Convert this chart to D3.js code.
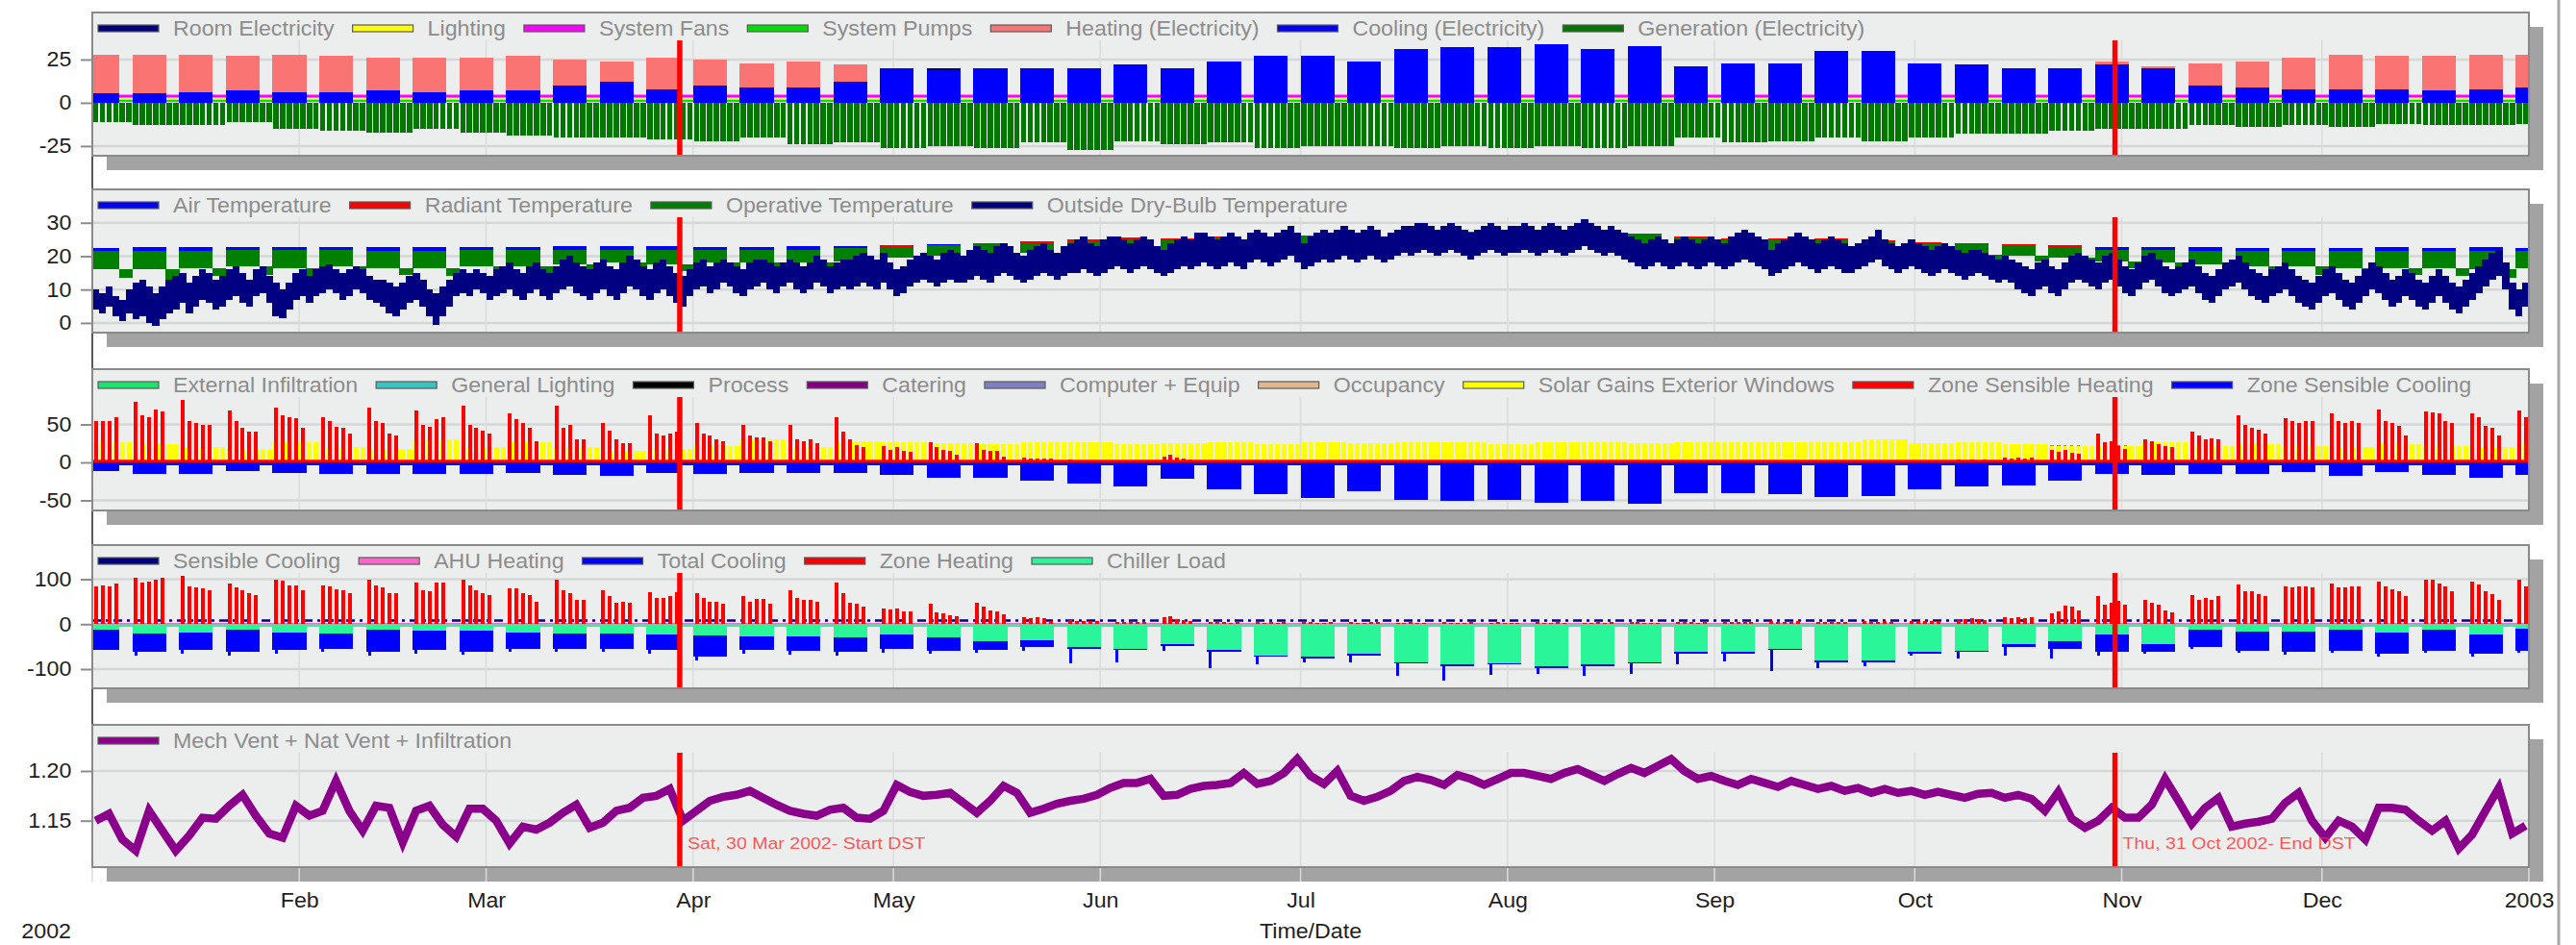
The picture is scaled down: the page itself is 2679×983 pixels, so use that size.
<!DOCTYPE html>
<html>
<head>
<meta charset="utf-8">
<script src="https://cdn.jsdelivr.net/npm/d3@7"></script>
<style>
  body { margin: 0; background: #fff; }
  text { font-family: "Liberation Sans", Arial, Helvetica, sans-serif; }
</style>
</head>
<body>
<svg id="chart" width="2679" height="983"></svg>
<script>
// ---------------- data (2002) ----------------
// weeks: w0 = Tue 1 Jan .. Sun 6 Jan, then Monday-based weeks up to w52 (Mon 30 Dec)

// panel 1 - electricity (kW)
const legend1 = ['Room Electricity', 'Lighting', 'System Fans', 'System Pumps', 'Heating (Electricity)', 'Cooling (Electricity)', 'Generation (Electricity)'];
const roomLevels = [20, 1.5];     // working day, otherwise
const lightLevels = [13, 1.8];
const fanLevel = [3.8];
const pumpLevel = [1.2];
const heatE = [28,28,28,27,28,27,26,26,26,27,25,24,26, 25,23,24,22,18,14,8,3,
  0,0,0,0,0,0,0,0,0,0,0,0,0,0,0,0,0,0,0,0,0,
  12,24,21,23,24,26,28,27,27,28,28];
const coolE = [5.7,5.5,6,7,6,6,7,6,7,7,10,12,8,10,9,9,12,
  20,19,20,20,20,22,20,24,27,27,24,31,32,32,34,31,33,21,23,23,30,30,23,22,20,20,22,20,
  10,9,8,8,8,7,8,9];
const genE = [-11,-13,-13,-11,-15,-16,-17,-15,-17.5,-19,-20,-20,-21,-22,-20,-24,-23,
  -26,-25,-26,-23,-27,-22,-24,-23,-26,-25,-25,-26,-25,-26,-25,-26,-25,
  -20,-23,-22,-20,-22,-20,-18,-18,-16,-15,-15,-13,-14,-13,-14,-12,-13,-13,-12];

// panel 2 - temperatures (deg C)
const legend2 = ['Air Temperature', 'Radiant Temperature', 'Operative Temperature', 'Outside Dry-Bulb Temperature'];
const airWdMax = [22.5,22.6,22.6,22.8,22.7,22.8,22.6,22.6,22.8,22.8,22.9,23,22.9,22.8,22.8,22.9,23,
  23.3,23.5,23.8,24.2,24.6,25,25.1,25.5,25.6,26,26.5,27,27,27.1,27,26.6,26.5,25.6,25.2,25,25,24.6,24.2,23.8,23.4,23.2,
  22.8,22.6,22.6,22.5,22.5,22.5,22.6,22.5,22.6,22.5];
const radWdMax = [20.5,20.5,20.5,20.8,20.8,20.8,20.5,20.5,20.8,20.8,21,21,21,21,21,21.2,21.5,
  23.2,23.4,23.9,24.4,25,25.5,25.4,25.8,25.8,26.2,26.7,27.2,27.2,27.3,27.2,26.8,26.7,25.8,25.4,25.2,25.2,24.7,24.3,23.9,23.5,23.2,
  21,20.8,20.6,20.5,20.5,20.5,20.5,20.5,20.5,20.5];
const opWdMax = [21.5,21.5,21.5,21.8,21.8,21.8,21.5,21.5,21.8,21.8,22,22,22, 22,22,22,22.3,
  22.8,23,23.5,24, 24.5,25,25,25.5,25.5, 26,26.5,27,27,27,27,26.5,26.5,
  25.5,25,25,25,24.5, 24,23.5,23,22.8, 22,21.8,21.6,21.5,21.5,21.5,21.5,21.5,21.5,21.5];
const opWdMin = [16,16,16.5,17,16.5,17,16.5,16.5,17,17,17.5,18,17.5, 18,18,18,18.5,
  19.5,20,20.5,21, 21.5,22,22,22.5,22.5, 23,23.5,24,24,24,24,23.5,23.5,
  22.5,22,22,22,21.5, 21,20.5,20,19.5, 18.5,18,17.5,17,17,16.5,16.5,16.5,16,16.5];
const opWeMin = [13.5,13,14,14.5,14,15,14.5,14,14.5,14.5,15,15.5,15.5, 16,16,16,16.5,
  18,18.5,19,19.5, 20,20.5,20.5,21,21, 21.5,22,22.5,22.5,22.5,22.5,22,22,
  21,20.5,20.5,20.5,20, 19.5,19,18.5,18, 16.5,16,15.5,15,14.5,14,14.5,14,13.5,14];
const outMin = [4,3,5,2,0.5,3,1,2,0,-1,1,3, 4,6,3,5,7,6,4,5, 7,8,6,5,8,9,6,2, 1.5,4,7,8,6,
  8,9,10,9,7,8,10,9,7,6, 5,3,2,4,6,7,5,2,-0.5,2, 5,8,9,8,10,9,7,8, 9,10,8,7,9,10,8,7,9,
  10,11,9,8,7,9,10,8, 7,9,11,10,8,7,9,10,8,6,5,
  8,10,11,9,10,12,11,9,8,10,11,12,10,9,11,12,10,9,10,12,11,9,10,11,
  10,11,12,11,10,12,10,8,9,11,12,13,12,11,12,13,12,
  12,13,14,13,12,14,15,14,13,12,13,14,15,14,13,14,15,
  15,16,15,14,15,16,17,16,15,16,17,16,15,14,15,16,
  17,16,17,18,17,16,17,18,17,16,18,19,18,17,18,19,20,
  18,16,17,18,19,18,19,20,19,18,19,20,19,18,19,20,21,
  20,21,22,21,20,21,22,21,20,19,20,21,22,21,20,21,
  21,22,21,20,21,22,21,20,21,22,23,22,21,20,21,20,19,
  18,17,16,17,18,17,16,17,18,17,16,17,18,17,16,17,
  18,19,18,17,16,14,15,16,17,18,17,16,15,16,17,16,15,
  15,16,17,18,19,17,16,15,16,17,16,15,14,15,16,15,
  14,13,14,15,14,13,12,13,12,10,9,8,10,11,9,8,10,
  12,13,12,11,10,12,13,11,9,8,10,12,13,11,9,8,
  9,10,11,9,7,6,8,10,11,12,10,8,7,6,8,9,10,
  8,6,5,4,6,8,9,7,5,4,6,8,10,9,7,5,
  6,8,7,5,4,6,8,6,4,3,5,7,9,11,13,14,10,4,2,5];
const outMax = [10,9,11,8,7,10,12,13,11,9,11,13, 14,15,12,14,16,15,13,14, 16,17,15,13,16,17,14,12, 10,12,15,16,14,
  16,17,17.5,16,15,16,17,16,14,13, 13,12,11,12,14,15,13,10,9,11, 13,15,16,15,16,15,14,16, 17,18,16,15,17,18,16,15,17,
  19,20,18,17,16,18,19,17, 16,18,20,19,17,16,18,19,17,15,14,
  16,18,19,17,18,19,18,17,16,18,19,19,18,17,18,19,18,17,18,20,19,17,18,19,
  19,20,21,20,19,21,18,16,17,19,20,21,20,19,21,22,21,
  20,22,23,22,21,23,24,23,21,20,22,23,24,22,21,23,24,
  25,26,24,23,25,26,26,25,24,25,26,25,23,22,24,25,
  26,25,27,27,26,25,26,27,26,25,27,28,27,26,27,28,29,
  27,24,26,27,28,27,28,29,28,27,28,29,28,26,27,28,29,
  29,30,30,29,28,29,30,29,28,27,28,29,30,29,28,29,
  29,30,29,28,29,30,29,28,29,30,31,30,29,28,29,28,27,
  26,25,24,25,26,25,24,25,26,25,24,25,26,25,24,26,
  27,28,27,26,25,22,24,25,26,27,26,25,24,25,26,25,24,
  23,24,25,26,28,25,24,23,24,25,24,23,22,23,24,23,
  22,21,22,22,21,20,19,20,19,18,17,16,18,19,17,16,18,
  20,21,20,19,18,20,21,19,17,16,18,20,21,19,17,16,
  17,18,19,17,15,14,16,18,19,20,18,16,15,14,16,17,18,
  16,14,13,12,14,16,17,15,13,12,14,16,18,17,15,13,
  14,16,15,13,12,14,16,14,12,11,13,15,17,19,21,22,18,12,10,12];

// panel 3 - zone gains (kW)
const legend3 = ['External Infiltration', 'General Lighting', 'Process', 'Catering', 'Computer + Equip', 'Occupancy', 'Solar Gains Exterior Windows', 'Zone Sensible Heating', 'Zone Sensible Cooling'];
const extInfLevel = [-1];
const genLightLevel = [9];
const processLevel = [0];
const cateringLevel = [0.5];
const equipLevel = [20];
const occLevel = [8];
const solar = [26,24,20,18,26,20,18,30,20,26,20,15,18,22,30,20,28,
  26,25,24,27,26,24,25,27,24,26,25,27,26,24,27,26,25,27,
  26,27,26,30,25,27,24,22,22,26,22,24,22,20,24,22,20,24];
const heatSFloor = [1.5];
const heatS = [[null,55,55,55,60],[80,62,60,70,67],[82,55,52,50,50],[68,55,45,40,40],[72,62,60,58,45],
  [60,55,47,45,38],[72,55,52,38,35],[68,50,47,57,60],[75,50,45,42,38],[65,57,52,45,28],
  [75,45,50,30,30],[52,42,30,25,25],[62,38,36,38,40],[52,38,35,30,28],[50,36,33,33,28],
  [50,30,28,30,25],[60,40,30,23,20],[22,17,20,15,14],[27,20,17,15,10],[25,17,15,15,8],
  [6,5,5,5,5],[4,3,3,3,3],[3,3,2,2,3],[8,10,6,5,4],[3,2,2,2,2],
  [2,2,2,2,2],[2,2,2,2,2],[2,2,2,2,2],[2,2,2,2,2],[2,2,2,2,2],
  [2,2,2,2,2],[2,2,2,2,2],[2,2,2,2,2],[2,2,2,2,2],[3,2,2,2,2],
  [3,2,2,2,2],[3,2,2,2,3],[2,2,2,2,2],[2,2,2,2,2],[3,3,2,3,3],
  [4,3,4,3,4],[6,5,6,5,6],[17,14,16,13,12],[38,26,28,22,18],[30,28,24,22,20],
  [40,35,30,32,30],[62,50,45,43,38],[58,55,52,54,55],[64,55,52,54,52],[70,55,52,48,36],
  [67,66,64,55,52],[64,60,48,45,36],[68,60]];
const coolS = [-12,-15,-15,-12,-14,-15,-15,-15,-15,-14,-16,-18,-14,-15,-14,-14,-14,
  -17,-20,-20,-24,-28,-32,-22,-36,-42,-47,-38,-49,-51,-49,-53,-51,-55,-40,
  -40,-42,-45,-44,-36,-32,-30,-24,-15,-16,-15,-15,-13,-18,-13,-16,-20,-16];
const coolSWeekend = [-4];

// panel 4 - plant loads (kW)
const legend4 = ['Sensible Cooling', 'AHU Heating', 'Total Cooling', 'Zone Heating', 'Chiller Load'];
const sensCoolLevel = [8];
const ahuLevel = [0.5];
const coolTot = [-58,-62,-58,-62,-58,-55,-62,-58,-62,-55,-55,-55,-58,-72,-58,-60,-62,
  -55,-60,-58,-50,-55,-58,-48,-62,-73,-76,-70,-88,-94,-90,-97,-94,-88,-66,
  -66,-58,-84,-84,-65,-62,-50,-55,-62,-62,-51,-59,-62,-59,-66,-59,-66,-59];
const coolTotPk = [-66,-70,-66,-70,-66,-62,-70,-66,-68,-62,-62,-62,-66,-80,-66,-68,-70,
  -63,-66,-64,-60,-87,-85,-60,-98,-90,-85,-85,-116,-126,-113,-110,-116,-110,-90,
  -83,-104,-97,-94,-70,-77,-70,-77,-70,-66,-56,-64,-68,-64,-72,-64,-72,-64];
const heatZ = [[null,85,87,84,90],[103,92,95,98,103],[108,84,82,80,76],[91,82,75,70,65],[100,97,87,87,76],
  [86,85,78,75,68],[100,86,82,70,70],[93,76,73,92,93],[100,86,76,68,65],[80,80,68,65,50],
  [98,76,68,55,55],[76,62,48,50,48],[72,58,58,62,72],[68,58,50,50,45],[62,50,57,57,45],
  [76,58,55,55,50],[93,68,48,45,40],[35,32,35,28,28],[46,26,24,20,17],[48,38,30,28,22],
  [16,13,16,13,8],[10,8,8,6,8],[5,5,4,4,5],[15,18,12,10,8],[5,4,4,3,4],
  [4,3,4,3,4],[4,4,3,3,4],[4,3,3,4,4],[3,3,4,3,3],[4,3,3,3,4],
  [3,4,3,3,3],[4,3,3,4,3],[3,3,4,3,4],[4,4,3,3,3],[5,4,4,3,4],
  [5,4,4,4,5],[6,5,4,5,6],[5,4,5,4,5],[6,5,5,6,5],[8,7,8,7,8],
  [10,12,14,12,10],[16,14,16,14,16],[25,28,41,38,30],[62,44,48,51,44],[55,48,44,30,27],
  [64,55,58,55,62],[88,73,73,66,62],[84,81,84,84,81],[91,81,81,84,84],[95,84,77,73,62],
  [100,98,91,84,73],[95,88,73,66,55],[98,84]];
const chiller = [-12,-20,-18,-12,-18,-20,-12,-15,-15,-18,-20,-20,-22,-25,-28,-28,-30,
  -23,-30,-38,-35,-51,-55,-45,-58,-70,-73,-66,-84,-90,-87,-94,-90,-84,-62,
  -62,-55,-80,-80,-62,-59,-44,-37,-23,-44,-12,-16,-16,-12,-18,-12,-23,-10];
const chillerWeekend = [-5];

// panel 5 - air change rate, one value every second day
const legend5 = ['Mech Vent + Nat Vent + Infiltration'];
const vent = [1.150,1.157,1.131,1.120,1.160,1.140,1.120,1.135,1.153,1.152,
  1.165,1.176,1.155,1.137,1.133,1.165,1.155,1.160,1.190,1.160,
  1.140,1.165,1.163,1.128,1.160,1.165,1.146,1.134,1.162,1.162,
  1.150,1.127,1.144,1.141,1.148,1.158,1.166,1.143,1.148,1.160,
  1.163,1.173,1.175,1.182,1.150,1.160,1.170,1.174,1.176,1.180,
  1.173,1.166,1.160,1.157,1.155,1.161,1.163,1.153,1.152,1.160,
  1.186,1.179,1.175,1.176,1.178,1.168,1.158,1.170,1.185,1.178,
  1.158,1.162,1.167,1.170,1.172,1.176,1.183,1.188,1.188,1.192,
  1.175,1.176,1.182,1.185,1.186,1.188,1.198,1.187,1.190,1.198,
  1.212,1.195,1.187,1.200,1.175,1.170,1.174,1.180,1.190,1.194,
  1.191,1.186,1.196,1.192,1.186,1.192,1.198,1.198,1.195,1.192,
  1.198,1.202,1.196,1.190,1.197,1.203,1.198,1.205,1.212,1.200,
  1.192,1.195,1.190,1.186,1.192,1.188,1.184,1.190,1.186,1.182,
  1.185,1.180,1.183,1.178,1.182,1.178,1.180,1.176,1.179,1.176,
  1.173,1.177,1.178,1.173,1.176,1.172,1.160,1.179,1.152,1.143,
  1.150,1.163,1.153,1.153,1.166,1.192,1.170,1.147,1.163,1.173,
  1.144,1.147,1.149,1.152,1.168,1.178,1.150,1.133,1.150,1.144,
  1.131,1.163,1.163,1.161,1.150,1.140,1.150,1.122,1.136,1.160,
  1.183,1.137,1.145];

const dstDates = [[2002, 2, 30, 'Sat, 30 Mar 2002- Start DST'], [2002, 9, 31, 'Thu, 31 Oct 2002- End DST']];

// ---------------- layout ----------------
const L = 96, R = 2630;
const tops = [13, 197, 384, 567, 754];
const bots = [162, 346, 531, 716, 902];
const legendH = 29;
const yDomains = [[-30.6, 52.2], [-2.9, 40], [-63.3, 122.8], [-142.8, 176], [1.1033, 1.2464]];
const yTicks = [[-25, 0, 25], [0, 10, 20, 30], [-50, 0, 50], [-100, 0, 100], [1.15, 1.20]];
const FS = 21.5, SX = 1.08;

const svg = d3.select('#chart');
const t0 = Date.UTC(2002, 0, 1);
const x = d3.scaleUtc().domain([new Date(t0), new Date(Date.UTC(2003, 0, 1))]).range([L, R]);
const dx = d => x(new Date(t0 + d * 864e5));
const dayW = dx(1) - dx(0);
const days = d3.range(365).map(d => ({d: d, wk: d < 6 ? 0 : 1 + Math.floor((d - 6) / 7), wd: (d + 1) % 7}));
const work = days.filter(o => o.wd < 5);
const wkend = days.filter(o => o.wd >= 5);
const months = d3.utcMonth.range(new Date(t0), new Date(Date.UTC(2003, 0, 2)));

// outer frame lines
svg.append('line').attr('x1', L).attr('x2', L).attr('y1', tops[0]).attr('y2', bots[4])
  .attr('stroke', '#222').attr('stroke-width', 1.5);
svg.append('line').attr('x1', 2661).attr('x2', 2661).attr('y1', 0).attr('y2', 983)
  .attr('stroke', '#a8a8a8').attr('stroke-width', 3);

function panel(i) {
  const top = tops[i], bot = bots[i], h = bot - top;
  const y = d3.scaleLinear().domain(yDomains[i]).range([bot, top]);
  svg.append('rect').attr('x', L + 15).attr('y', top + 15).attr('width', R - L).attr('height', h).attr('fill', '#a3a3a3');
  svg.append('rect').attr('x', L).attr('y', top).attr('width', R - L).attr('height', h).attr('fill', '#eceeee');

  const grid = svg.append('g');
  grid.selectAll(null).data(yTicks[i]).join('line')
    .attr('x1', L).attr('x2', R).attr('y1', d => y(d)).attr('y2', d => y(d))
    .attr('stroke', '#d5d7d7').attr('stroke-width', 2.5);
  grid.selectAll(null).data(months).join('line')
    .attr('x1', d => x(d)).attr('x2', d => x(d))
    .attr('y1', top + legendH).attr('y2', i === 4 ? bot + 15 : bot)
    .attr('stroke', '#dadcdc').attr('stroke-width', 1.5);

  const fmt = i === 4 ? (d => d.toFixed(2)) : (d => String(d));
  const ax = svg.append('g').attr('transform', `translate(${L},0)`)
    .call(d3.axisLeft(y).tickValues(yTicks[i]).tickSize(12).tickPadding(8).tickFormat(fmt));
  ax.select('.domain').remove();
  ax.selectAll('.tick line').attr('stroke', '#8c8c8c').attr('stroke-width', 2);
  ax.selectAll('.tick text').attr('font-size', FS).attr('fill', '#1e1e1e')
    .attr('font-family', '"Liberation Sans", Arial, sans-serif')
    .attr('transform', `scale(${SX},1)`);

  svg.append('clipPath').attr('id', 'clip' + i).append('rect')
    .attr('x', L).attr('y', top).attr('width', R - L).attr('height', h);
  const g = svg.append('g').attr('clip-path', `url(#clip${i})`).attr('shape-rendering', 'crispEdges');
  return {g: g, y: y, top: top, bot: bot, i: i};
}

// helpers
function bars(p, data, val, color, off, w) {
  const y = p.y;
  p.g.append('g').selectAll('rect').data(data.filter(o => val(o) != null)).join('rect')
    .attr('x', o => dx(o.d + off)).attr('width', w)
    .attr('y', o => Math.min(y(val(o)), y(0)))
    .attr('height', o => Math.abs(y(val(o)) - y(0)))
    .attr('fill', color);
}
function band(p, data, lo, hi, color) {
  const y = p.y;
  p.g.append('g').selectAll('rect').data(data).join('rect')
    .attr('x', o => dx(o.d)).attr('width', dayW + 0.4)
    .attr('y', o => y(hi(o))).attr('height', o => Math.max(1, y(lo(o)) - y(hi(o))))
    .attr('fill', color);
}
function level(p, v, color, sw, dash) {
  p.g.append('line').attr('x1', L).attr('x2', R).attr('y1', p.y(v)).attr('y2', p.y(v))
    .attr('stroke', color).attr('stroke-width', sw).attr('stroke-dasharray', dash || null)
    .attr('shape-rendering', 'auto');
}
function segs(p, data, v, color, sw) {
  p.g.append('g').selectAll('line').data(data).join('line')
    .attr('x1', o => dx(o.d + 0.3)).attr('x2', o => dx(o.d + 0.78))
    .attr('y1', p.y(v)).attr('y2', p.y(v))
    .attr('stroke', color).attr('stroke-width', sw);
}
function legend(p, names, colors) {
  let cx = 102;
  const lg = svg.append('g');
  names.forEach((n, k) => {
    lg.append('rect').attr('x', cx).attr('y', p.top + 13).attr('width', 63).attr('height', 7)
      .attr('fill', colors[k]).attr('stroke', '#5a5a5a').attr('stroke-width', 1.2);
    const t = lg.append('text').attr('transform', `translate(${cx + 78},${p.top + 24}) scale(${SX},1)`)
      .attr('font-size', FS).attr('fill', '#8c8c8c').text(n);
    cx += 78 + t.node().getComputedTextLength() * SX + 19;
  });
}
function finish(p) {
  dstDates.forEach(dd => {
    const xx = x(new Date(Date.UTC(dd[0], dd[1], dd[2])));
    svg.append('line').attr('x1', xx).attr('x2', xx).attr('y1', p.top + legendH).attr('y2', p.bot)
      .attr('stroke', '#ff0000').attr('stroke-width', 5.5);
  });
  svg.append('rect').attr('x', L).attr('y', p.top).attr('width', R - L).attr('height', p.bot - p.top)
    .attr('fill', 'none').attr('stroke', '#8a8a8a').attr('stroke-width', 2);
}

// ---------------- panel 1 ----------------
const c1 = ['#000080', '#ffff00', '#ff00ff', '#00e000', '#fb7474', '#0000ff', '#007800'];
const p1 = panel(0);
level(p1, roomLevels[1], c1[0], 2);
bars(p1, work, o => roomLevels[0], c1[0], 0, dayW + 0.4);
level(p1, lightLevels[1], c1[1], 2.5);
bars(p1, work, o => lightLevels[0], c1[1], 0, dayW + 0.4);
level(p1, fanLevel[0], c1[2], 3);
level(p1, pumpLevel[0], c1[3], 2);
bars(p1, work, o => heatE[o.wk] || null, c1[4], 0, dayW + 0.4);
bars(p1, work, o => coolE[o.wk], c1[5], 0, dayW + 0.4);
bars(p1, days, o => genE[o.wk], c1[6], 0.1, dayW * 0.82);
legend(p1, legend1, c1);
finish(p1);

// ---------------- panel 2 ----------------
const c2 = ['#0000ff', '#ff0000', '#008000', '#000080'];
const p2 = panel(1);
const insideLo = o => o.wd < 5 ? opWdMin[o.wk] : opWeMin[o.wk];
band(p2, days, insideLo, o => o.wd < 5 ? airWdMax[o.wk] : opWdMin[o.wk], c2[0]);
band(p2, days, insideLo, o => o.wd < 5 ? radWdMax[o.wk] : opWdMin[o.wk], c2[1]);
band(p2, days, insideLo, o => o.wd < 5 ? opWdMax[o.wk] : opWdMin[o.wk], c2[2]);
band(p2, days, o => outMin[o.d], o => outMax[o.d], c2[3]);
legend(p2, legend2, c2);
finish(p2);

// ---------------- panel 3 ----------------
const c3 = ['#20e070', '#40c0c0', '#000000', '#800080', '#8080c0', '#e0b890', '#ffff00', '#ff0000', '#0000ff'];
const p3 = panel(2);
level(p3, extInfLevel[0], c3[0], 2);
segs(p3, work, genLightLevel[0], c3[1], 3);
level(p3, processLevel[0], c3[2], 1.5);
level(p3, cateringLevel[0], c3[3], 1.5);
segs(p3, work, equipLevel[0], c3[4], 3.5);
segs(p3, work, occLevel[0], c3[5], 3);
bars(p3, days, o => solar[o.wk], c3[6], 0.15, dayW * 0.75);
level(p3, heatSFloor[0], c3[7], 3);
bars(p3, work, o => heatS[o.wk][o.wd], c3[7], 0.25, 4);
bars(p3, work, o => coolS[o.wk], c3[8], 0, dayW + 0.4);
bars(p3, wkend, o => coolSWeekend[0], c3[8], 0, dayW + 0.4);
legend(p3, legend3, c3);
finish(p3);

// ---------------- panel 4 ----------------
const c4 = ['#000080', '#ff66cc', '#0000ff', '#ff0000', '#2af598'];
const p4 = panel(3);
level(p4, sensCoolLevel[0], c4[0], 2.5, '9 5 3 5');
level(p4, ahuLevel[0], c4[1], 2);
bars(p4, work, o => coolTot[o.wk], c4[2], 0, dayW + 0.4);
bars(p4, work.filter(o => o.wd === 0), o => coolTotPk[o.wk], c4[2], 0.3, 3);
bars(p4, work, o => heatZ[o.wk][o.wd], c4[3], 0.25, 4);
bars(p4, work, o => chiller[o.wk], c4[4], 0, dayW + 0.4);
bars(p4, wkend, o => chillerWeekend[0], c4[4], 0, dayW + 0.4);
legend(p4, legend4, c4);
finish(p4);

// ---------------- panel 5 ----------------
const c5 = ['#8b008b'];
const p5 = panel(4);
p5.g.append('path').datum(vent)
  .attr('d', d3.line().x((v, k) => dx(2 * k + 0.5)).y(v => p5.y(v)))
  .attr('fill', 'none').attr('stroke', c5[0]).attr('stroke-width', 8.5)
  .attr('stroke-linejoin', 'miter').attr('shape-rendering', 'auto');
legend(p5, legend5, c5);
finish(p5);

// DST labels
dstDates.forEach(dd => {
  const xx = x(new Date(Date.UTC(dd[0], dd[1], dd[2])));
  svg.append('text').attr('transform', `translate(${xx + 8},883) scale(1.15,1)`)
    .attr('font-size', 17).attr('fill', '#ff2a2a').attr('fill-opacity', 0.78).text(dd[3]);
});

// time axis
const xa = svg.append('g').attr('transform', 'translate(0,917)')
  .call(d3.axisBottom(x).tickValues(months.slice(1)).tickSize(0).tickPadding(12)
    .tickFormat(d => d.getUTCMonth() === 0 ? d3.utcFormat('%Y')(d) : d3.utcFormat('%b')(d)));
xa.select('.domain').remove();
xa.selectAll('.tick text').attr('font-size', FS).attr('fill', '#1e1e1e')
  .attr('font-family', '"Liberation Sans", Arial, sans-serif')
  .attr('transform', `scale(${SX},1)`);
svg.append('text').attr('transform', `translate(74,976) scale(${SX},1)`).attr('text-anchor', 'end')
  .attr('font-size', FS).attr('fill', '#1e1e1e').text('2002');
svg.append('text').attr('transform', `translate(${(L + R) / 2},976) scale(${SX},1)`).attr('text-anchor', 'middle')
  .attr('font-size', FS).attr('fill', '#1e1e1e').text('Time/Date');
</script>
</body>
</html>
